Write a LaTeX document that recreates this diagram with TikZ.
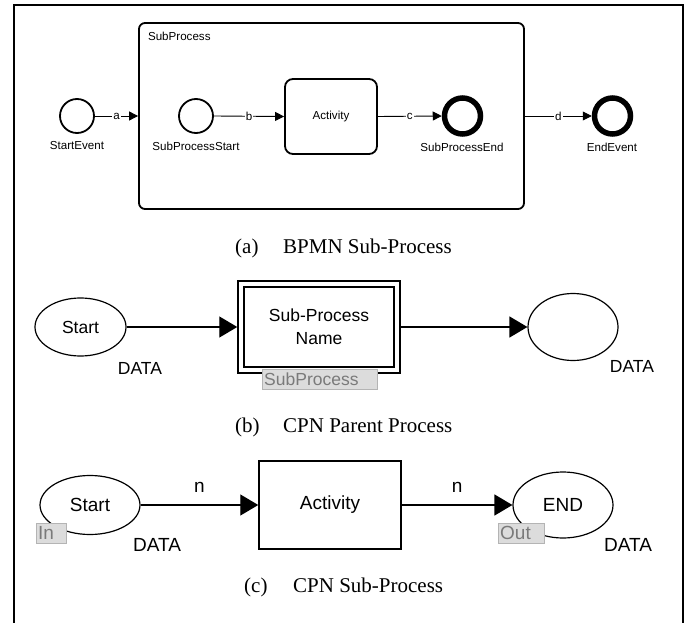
\documentclass[tikz,border=0pt]{standalone}
\usepackage{fontspec}
\setmainfont{Liberation Serif}
\setsansfont{Liberation Sans}
\usetikzlibrary{shapes.geometric,arrows.meta}
\definecolor{tagfill}{HTML}{DCDCDC}
\definecolor{tagline}{HTML}{B4B4B4}
\definecolor{tagtext}{HTML}{7A7A7A}
\begin{document}
\begin{tikzpicture}[x=1pt,y=-1pt,
  sa/.style={font=\sffamily\fontsize{11.6}{13}\selectfont},
  sb/.style={font=\sffamily\fontsize{17.5}{23}\selectfont},
  sc/.style={font=\sffamily\fontsize{19}{23}\selectfont},
  captxt/.style={font=\rmfamily\fontsize{21}{24}\selectfont, inner sep=0pt, anchor=base west},
  evstart/.style={circle, draw, line width=1.8pt, minimum size=34pt, inner sep=0pt},
  evend/.style={circle, draw, line width=5.5pt, minimum size=36pt, inner sep=0pt},
  flowa/.style={draw, line width=0.9pt, -{Triangle[length=9pt,width=9pt]}},
  flab/.style={sa, fill=white, inner sep=1pt},
  place/.style={ellipse, draw, line width=1.2pt, inner sep=0pt},
  trans/.style={draw, line width=1.5pt, inner sep=0pt},
  arc/.style={draw, line width=1.4pt, -{Triangle[length=18pt,width=21pt]}},
  tagbox/.style={draw=tagline, fill=tagfill, text=tagtext, inner sep=2pt, align=left, minimum height=20pt}
]
\useasboundingbox (0,0) rectangle (694,623);
\draw[line width=2pt] (14,623) -- (14,5) -- (683,5) -- (683,623);

% ---------- (a) BPMN ----------
\node[draw, rounded corners=6pt, line width=1.8pt, minimum width=385pt, minimum height=186pt, inner sep=0pt] (sp) at (331.5,116) {};
\node[sa, anchor=west] (spl) at (144.5,36) {SubProcess};
\node[evstart] (se) at (77,116) {};
\node[sa] (sel) at (77,146) {StartEvent};
\node[evstart] (ss) at (196,116) {};
\node[sa] (ssl) at (196,146) {SubProcessStart};
\node[draw, rounded corners=8pt, line width=1.8pt, minimum width=92pt, minimum height=75pt, inner sep=0pt, sa] (act) at (331,116.5) {Activity};
\node[evend] (spe) at (462.5,116) {};
\node[sa] (spel) at (462,147) {SubProcessEnd};
\node[evend] (ee) at (612.5,116) {};
\node[sa] (eel) at (612,147) {EndEvent};
\draw[flowa] (se.east) -- node[flab] {a} (sp.west);
\draw[flowa] (ss.east) -- node[flab] {b} (act.west);
\draw[flowa] (act.east) -- node[flab] {c} (spe.west);
\draw[flowa] (sp.east) -- node[flab] {d} (ee.west);
\node[captxt] (capa1) at (235,253) {(a)};
\node[captxt] (capa2) at (283,253) {BPMN Sub-Process};

% ---------- (b) CPN parent ----------
\node[place, minimum width=91pt, minimum height=58pt, sb] (bs) at (80.5,327) {Start};
\node[sb] (bsd) at (140,368) {DATA};
\node[trans, minimum width=162pt, minimum height=92pt] (bo) at (319,327) {};
\node[trans, minimum width=150pt, minimum height=80pt, sb, align=center] (bi) at (319,327) {Sub-Process\\Name};
\node[tagbox, sb, anchor=west, text width=111pt] (btag) at (262,379) {SubProcess};
\node[place, minimum width=90pt, minimum height=67pt] (be) at (573,327) {};
\node[sb] (bed) at (632,366) {DATA};
\draw[arc] (bs.east) -- (bo.west);
\draw[arc] (bo.east) -- (be.west);
\node[captxt] (capb1) at (235,432) {(b)};
\node[captxt] (capb2) at (283,432) {CPN Parent Process};

% ---------- (c) CPN sub-process ----------
\node[place, minimum width=100pt, minimum height=59pt, sc] (cs) at (90,505) {Start};
\node[tagbox, sc, anchor=west, text width=26pt] (cin) at (36,533) {In};
\node[sc] (csd) at (157,545) {DATA};
\node[trans, minimum width=142pt, minimum height=88pt, sc] (ca) at (330,505) {Activity};
\node[place, minimum width=100pt, minimum height=66pt, sc] (ce) at (563,505) {END};
\node[tagbox, sc, anchor=west, text width=42pt] (cout) at (498,533) {Out};
\node[sc] (ced) at (628,545) {DATA};
\draw[arc] (cs.east) -- node[sc, midway, yshift=18pt] {n} (ca.west);
\draw[arc] (ca.east) -- node[sc, midway, yshift=18pt] {n} (ce.west);
\node[captxt] (capc1) at (244,592) {(c)};
\node[captxt] (capc2) at (293,592) {CPN Sub-Process};
\end{tikzpicture}
\end{document}
